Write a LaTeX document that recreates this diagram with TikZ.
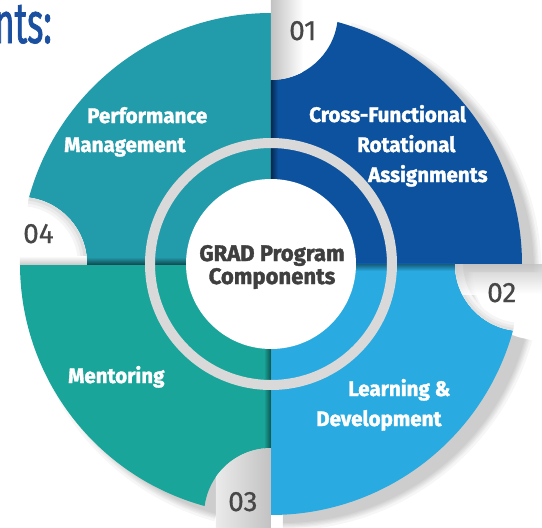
\documentclass[tikz,border=0pt]{standalone}
\usepackage{fontspec}
\setmainfont{Fira Sans}
\newfontfamily\labelfont[FakeStretch=0.98,FakeBold=1.6]{Fira Sans}
\newfontfamily\numfont[FakeBold=0.6]{Fira Sans}
\newfontfamily\headfont[FakeStretch=0.6,FakeBold=1.2]{Fira Sans}

\definecolor{quadBlue}{HTML}{0D529F}
\definecolor{quadSky}{HTML}{29AAE1}
\definecolor{quadSea}{HTML}{1AA59A}
\definecolor{quadTeal}{HTML}{229CAA}
\definecolor{ringGray}{HTML}{D9D9D9}
\definecolor{numGray}{HTML}{474747}
\definecolor{hubText}{HTML}{3F3F3F}
\definecolor{headBlue}{HTML}{1B4FA0}

% white hub, greyed towards the upper left rim
\pgfdeclareradialshading{hubglow}{\pgfpoint{9bp}{-9bp}}{%
  color(0bp)=(white); color(31bp)=(white); color(50bp)=(black!22)}

\tikzset{
  quadlabel/.style={font=\labelfont\bfseries\fontsize{21}{21}\selectfont,
    text=white, inner sep=0pt, anchor=base west},
  hublabel/.style={font=\labelfont\bfseries\fontsize{22.5}{22.5}\selectfont,
    text=hubText, inner sep=0pt, anchor=base},
  quadnum/.style={font=\numfont\fontsize{28}{28}\selectfont,
    text=numGray, inner sep=0pt, anchor=base west},
}

\begin{document}
\begin{tikzpicture}[x=1pt,y=1pt]
  \useasboundingbox (-271,-264) rectangle (271,264);
  % outer radius, notch radius, end of arc before the notch
  \def\R{251}
  \def\r{67}
  \def\e{74.66}
  \def\n{-7.67}
  \def\k{184}

  % soft shadow under the wheel
  \foreach \s in {1,1.005,1.01,1.015,1.02,1.03}
  \fill[black,opacity=0.035,shift={(12,-8)},scale=\s]
  \foreach \a in {0,90,180,270}
  {
    (0,0) -- (\a:\R) arc[start angle=\a, end angle=\a+\e, radius=\R]
    arc[start angle=\a+\n, end angle=\a-90, radius=\r] -- cycle
  };

  % the four notched quadrants
  \foreach \a/\col in {0/quadBlue,270/quadSky,180/quadSea,90/quadTeal}
  \fill[\col]
  (0,0) -- (\a:\R) arc[start angle=\a, end angle=\a+\e, radius=\R]
  arc[start angle=\a+\n, end angle=\a-90, radius=\r] -- cycle;

  % each quadrant throws a shadow onto the next one
  \shade[left color=quadBlue!50!black, right color=quadBlue]  (0,0) rectangle (7,\k);
  \shade[top color=quadSky!55!black, bottom color=quadSky]    (0,-7) rectangle (\k,0);
  \shade[left color=quadSea, right color=quadSea!50!black]    (-7,-\k) rectangle (0,0);
  \shade[top color=quadTeal, bottom color=quadTeal!50!black]  (-\k,0) rectangle (0,7);

  \begin{scope}
    \clip (0,\R) circle (\r);
    \shade[left color=black!24, right color=white] (0,\k-1) rectangle (32,264);
  \end{scope}
  \begin{scope}
    \clip (\R,0) circle (\r);
    \clip (\k-1,-\r) rectangle (271,0);
    \foreach \w/\g in {16/4,10/8,5/12}
    \draw[black!\g,line width=\w] (\R,0) ++(262.33:\r)
      arc[start angle=262.33, end angle=180, radius=\r];
    \shade[top color=black!24, bottom color=white,opacity=0.8] (\k-1,-30) rectangle (271,0);
  \end{scope}
  \begin{scope}
    \clip (0,-\R) circle (\r);
    \shade[left color=black!8, right color=black!24] (-55,-264) rectangle (0,-\k+1);
  \end{scope}
  \begin{scope}
    \clip (-\R,0) circle (\r);
    \clip (-271,0) rectangle (-\k+1,\r);
    \foreach \w/\g in {18/4,12/8,6/13}
    \draw[black!\g,line width=\w] (-\R,0) ++(82.33:\r)
      arc[start angle=82.33, end angle=0, radius=\r];
    \shade[top color=white, bottom color=black!20] (-\R,0) rectangle (-\k+1,8);
  \end{scope}

  % ring and hub
  \fill[ringGray,even odd rule] (0,0) circle (126) circle (116);
  \shade[shading=hubglow] (0,0) circle (85);

  \node[hublabel] (grad) at (1,3)   {GRAD Program};
  \node[hublabel] (comp) at (1,-20) {Components};

  % quadrant texts
  \node[quadlabel] (cross) at (38,142)  {Cross-Functional};
  \node[quadlabel] (rota)  at (86,112)  {Rotational};
  \node[quadlabel] (assi)  at (97,82)   {Assignments};
  \node[quadlabel] (learn) at (77,-132) {Learning \&};
  \node[quadlabel] (devel) at (45,-162) {Development};
  \node[quadlabel] (ment)  at (-203,-119) {Mentoring};
  \node[quadlabel] (perf)  at (-184,141) {Performance};
  \node[quadlabel] (mgmt)  at (-207,112) {Management};

  % step numbers
  \node[quadnum] (one)   at (18,224)   {01};
  \node[quadnum] (two)   at (216,-38)  {02};
  \node[quadnum] (three) at (-43,-247) {03};
  \node[quadnum] (four)  at (-248,21)  {04};

  \node[font=\headfont\fontsize{58}{58}\selectfont, text=headBlue,
    inner sep=0pt, anchor=base west] (head) at (-277,221) {nts:};
\end{tikzpicture}
\end{document}
